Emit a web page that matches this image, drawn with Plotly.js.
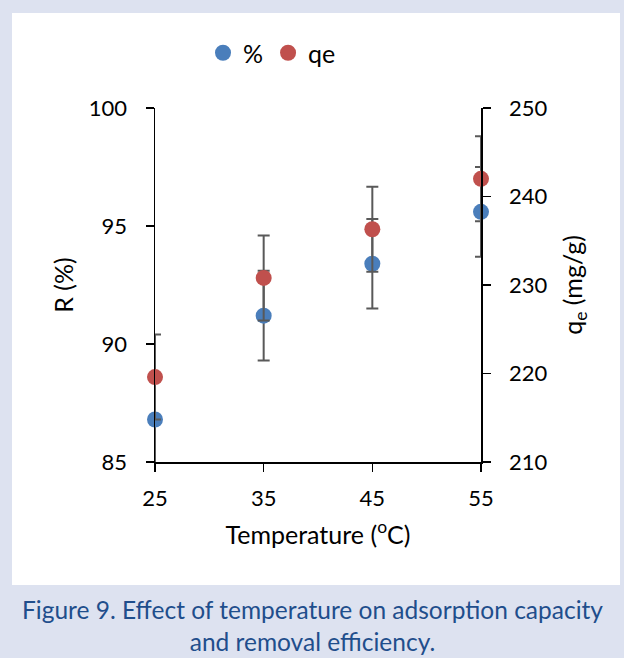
<!DOCTYPE html>
<html>
<head>
<meta charset="utf-8">
<script src="https://cdn.plot.ly/plotly-3.0.1.min.js"></script>
<style>
html,body{margin:0;padding:0;background:#dde2f0;}
#chart{width:624px;height:658px;}
</style>
</head>
<body>
<div id="chart"></div>
<script>
// ---- data ----
const temperature = [25, 35, 45, 55];
const removalPct = [86.8, 91.2, 93.4, 95.6];
const removalErr = [1.9, 1.9, 1.9, 1.9];
const qe = [219.6, 230.8, 236.3, 242.0];
const qeErr = [4.8, 4.8, 4.8, 4.8];
const xTicks = [25, 35, 45, 55];
const seriesNames = ['%', 'qe'];

// ---- layout helpers (pixel -> paper) ----
const W = 624, H = 658, L = 155, R = 143, T = 108, B = 196;
const PW = W - L - R, PH = H - T - B;
const px = x => (x - L) / PW;
const py = y => (H - B - y) / PH;

const font = 'Lato, "Open Sans", sans-serif';
const blue = '#4a7ebb', red = '#c0504d', errCol = '#595959';
const tickSize = 22, titleSize = 25;

const errStyle = {thickness: 2, width: 6, color: errCol};

const traces = [
  {x: temperature, y: removalPct, type: 'scatter', mode: 'markers',
   marker: {size: 16, opacity: 0}, showlegend: false, hoverinfo: 'skip',
   error_y: Object.assign({type: 'data', array: removalErr, visible: true}, errStyle),
   yaxis: 'y', cliponaxis: true},
  {x: temperature, y: removalPct, type: 'scatter', mode: 'markers', name: seriesNames[0],
   marker: {size: 16, color: blue}, yaxis: 'y', cliponaxis: false},
  {x: temperature, y: qe, type: 'scatter', mode: 'markers',
   marker: {size: 16, opacity: 0}, showlegend: false, hoverinfo: 'skip',
   error_y: Object.assign({type: 'data', array: qeErr, visible: true}, errStyle),
   yaxis: 'y2', cliponaxis: true},
  {x: temperature, y: qe, type: 'scatter', mode: 'markers', name: seriesNames[1],
   marker: {size: 16, color: red}, yaxis: 'y2', cliponaxis: false}
];

const axisCommon = {
  showline: true, linecolor: '#000', linewidth: 1.5,
  ticks: 'outside', ticklen: 8, tickwidth: 1.5, tickcolor: '#000',
  showgrid: false, zeroline: false,
  tickfont: {family: font, size: tickSize, color: '#000'}
};

const layout = {
  width: W, height: H,
  margin: {l: L, r: R, t: T, b: B},
  paper_bgcolor: '#dde2f0',
  plot_bgcolor: 'rgba(0,0,0,0)',
  font: {family: font, color: '#000'},
  showlegend: true,
  legend: {orientation: 'h', x: px(272), y: py(53), xanchor: 'center', yanchor: 'middle',
           font: {family: font, size: titleSize, color: '#000'}, bgcolor: 'rgba(0,0,0,0)',
           itemwidth: 30, tracegroupgap: 0},
  xaxis: Object.assign({}, axisCommon, {
    range: [25, 55], tickvals: xTicks, ticktext: xTicks.map(String),
    ticklabelstandoff: 8,
    title: {text: 'Temperature (<sup>o</sup>C)', font: {family: font, size: titleSize, color: '#000'}, standoff: 16}
  }),
  yaxis: Object.assign({}, axisCommon, {
    range: [85, 100], tickvals: [85, 90, 95, 100], ticklabelstandoff: 14,
    title: {text: 'R (%)', font: {family: font, size: titleSize, color: '#000'}, standoff: 8}
  }),
  yaxis2: Object.assign({}, axisCommon, {
    range: [210, 250], tickvals: [210, 220, 230, 240, 250], side: 'right', overlaying: 'y',
    ticklabelstandoff: 14,
    title: {text: 'q<sub>e</sub> (mg/g)', font: {family: font, size: titleSize, color: '#000'}, standoff: 18}
  }),
  shapes: [{type: 'rect', xref: 'paper', yref: 'paper', layer: 'below',
            x0: px(12), x1: px(620), y0: py(585), y1: py(13),
            fillcolor: '#ffffff', line: {width: 0}}],
  annotations: [{xref: 'paper', yref: 'paper', x: px(312), y: py(625),
                 xanchor: 'center', yanchor: 'middle', showarrow: false, align: 'center',
                 text: 'Figure 9. Effect of temperature on adsorption capacity<br>and removal efficiency.',
                 font: {family: font, size: 24.5, color: '#1f4e8c'}}]
};

Plotly.newPlot('chart', traces, layout, {displayModeBar: false, staticPlot: true});
</script>
</body>
</html>
